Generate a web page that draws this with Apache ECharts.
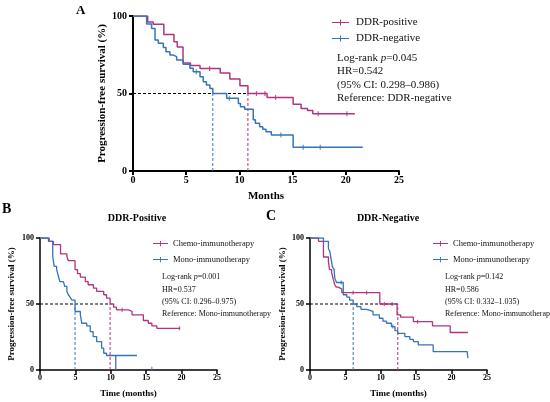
<!DOCTYPE html>
<html><head><meta charset="utf-8">
<script src="https://cdn.jsdelivr.net/npm/echarts/dist/echarts.min.js"></script>
<style>html,body{margin:0;padding:0;background:#fff}#c{width:550px;height:402px}</style>
</head><body><div id="c"></div>
<script>
// ---------- data ----------
const xTickStep = 5, xMax = 25, yTickStep = 50, yMax = 100;

// Panel A
const posA = [[0,100],[1.38,96.1],[1.9,94.6],[2.9,88],[3.85,83.4],[4.16,80],[4.7,69.7],[5.4,68],[6.3,66.2],[8.2,63.2],[9.1,59.4],[10.05,55],[10.8,50],[12.6,47.5],[15.05,43],[15.8,40.4],[16.4,39],[16.9,37],[20.85,37]];
const negA = [[0,100],[1.28,94.8],[1.75,92],[2.07,84.5],[2.38,82.4],[2.85,79.6],[3.1,77],[3.47,74.8],[3.8,73.8],[4.1,71.6],[4.72,68.8],[5.35,66.3],[5.66,64],[6.3,60.8],[6.6,57.6],[6.9,55.5],[7.23,53.3],[7.5,50],[8.8,47],[9.9,43.6],[10.1,41.5],[10.5,39.8],[11.3,33],[11.5,30.8],[11.9,28.6],[12.2,27],[12.5,25.4],[13.0,23.2],[15.05,15.3],[21.6,15.3]];
const censPosA = [[7.2,66.2],[11.6,50],[12.4,50],[13.4,47.5],[17.4,37],[20.1,37]];
const censNegA = [[5.95,64],[9.05,47],[13.9,23.2],[16,15.3],[17.6,15.3]];
const medA = {pos:10.8, neg:7.5};

// Panel B
const chemoB = [[0,100],[1.2,97.5],[1.9,95],[2.9,88],[3.8,86],[4.0,82.8],[4.95,76],[5.3,73],[5.7,70.4],[6.4,67],[6.8,64.6],[7.55,62],[8.0,59.5],[9.0,57],[9.4,54.4],[9.9,50],[10.4,47.6],[10.8,45.6],[12.5,44.3],[13.0,41.8],[14.6,37.5],[15.3,35.4],[15.8,33.4],[16.5,31.6],[19.8,31.6]];
const monoB = [[0,100],[1.3,97.5],[1.8,86],[2.0,78.5],[2.35,76],[2.6,71],[2.8,67],[3.3,65.8],[3.5,63.3],[3.8,59.5],[4.0,57],[4.25,55.2],[4.5,53],[4.95,44.3],[5.7,41.8],[5.9,35.4],[6.6,33.4],[7.1,29.1],[7.5,25.3],[8.0,21.5],[8.7,16.5],[9.0,12.7],[9.4,11],[13.7,11]];
const monoBDrop = [[10.7,11],[10.7,0]];
const censChemoB = [[11.6,45.6],[19.7,31.6]];
const censMonoB = [[15.8,1]];
const medB = {chemo:9.9, mono:4.95};

// Panel C
const chemoC = [[0,100],[1.2,97.5],[1.9,85.6],[2.6,82.3],[2.75,76],[3.05,74],[3.3,68.4],[3.5,64.6],[3.7,62.8],[4.0,61.3],[4.5,58.6],[9.86,50],[12.3,41.7],[12.8,40],[14.6,36.6],[17.3,33.4],[19.8,28.4],[22.3,28.4]];
const monoC = [[0,100],[1.9,97.5],[2.6,92],[2.8,89.9],[2.96,84.8],[3.15,78.5],[3.4,76],[3.5,69.6],[3.75,66.3],[4.7,57],[5.2,55.2],[5.6,53],[6.1,50],[6.6,48],[7.2,46],[8.0,44.5],[8.9,41.7],[9.8,39.2],[10.3,37],[10.8,35.4],[11.5,32.9],[12.0,29.8],[12.4,27.8],[13.4,25.3],[14.1,23.2],[14.6,21.5],[15.3,19],[17.4,13.9],[22.2,13.9],[22.3,9]];
const censChemoC = [[6.1,58.6],[8.0,58.6],[10.5,50],[11.6,50],[15.2,36.6]];
const censMonoC = [[4.4,66.3],[11.7,32.9]];
const medC = {chemo:12.4, mono:6.1};

const textA = ['Log-rank |p|=0.045','HR=0.542','(95% CI: 0.298\u20130.986)','Reference: DDR-negative'];
const textB = ['Log-rank |p|=0.001','HR=0.537','(95% CI: 0.296\u20130.975)','Reference: Mono-immunotherapy'];
const textC = ['Log-rank |p|=0.142','HR=0.586','(95% CI: 0.332\u20131.035)','Reference: Mono-immunotherapy'];

// ---------- styles ----------
const FF = '"Liberation Serif","Times New Roman",serif';
const PINK = '#b3327f', BLUE = '#3574b8';
const legIcon = 'path://M0,4.4H20V5.6H0Z M9.4,1.5H10.6V8.5H9.4Z';

function xAx(gi, fs, lw, name, gap, nfs){
  return {gridIndex:gi, type:'value', min:0, max:xMax, interval:xTickStep,
    axisLine:{show:true, lineStyle:{color:'#000', width:lw}},
    axisTick:{show:true, length:4, lineStyle:{color:'#000', width:lw}},
    axisLabel:{fontFamily:FF, fontWeight:'bold', fontSize:fs, color:'#000', margin:4},
    splitLine:{show:false}, name:name, nameLocation:'middle', nameGap:gap,
    nameTextStyle:{fontFamily:FF, fontWeight:'bold', fontSize:nfs, color:'#000'}};
}
function yAx(gi, fs, lw, gap, nfs){
  return {gridIndex:gi, type:'value', min:0, max:yMax, interval:yTickStep,
    axisLine:{show:true, lineStyle:{color:'#000', width:lw}},
    axisTick:{show:true, length:4, lineStyle:{color:'#000', width:lw}},
    axisLabel:{fontFamily:FF, fontWeight:'bold', fontSize:fs, color:'#000', margin:6},
    splitLine:{show:false}, name:'Progression-free survival (%)', nameLocation:'middle', nameRotate:90, nameGap:gap,
    nameTextStyle:{fontFamily:FF, fontWeight:'bold', fontSize:nfs, color:'#000'}};
}
function km(name, gi, data, color, w){
  return {name:name, type:'line', step:'end', xAxisIndex:gi, yAxisIndex:gi, data:data, showSymbol:false, symbol:'none',
    lineStyle:{color:color, width:w}, itemStyle:{color:color}, silent:true, z:3};
}
function seg(gi, data, color, dashed, w){
  return {type:'line', xAxisIndex:gi, yAxisIndex:gi, data:data, showSymbol:false, symbol:'none', silent:true,
    lineStyle:{color:color, width:w||1, type: dashed ? [3,2] : 'solid'}, z:2};
}
function cens(gi, data, color, h){
  return {type:'scatter', xAxisIndex:gi, yAxisIndex:gi, data:data, symbol:'rect', symbolSize:[1.2,h], silent:true,
    itemStyle:{color:color}, z:4};
}
function txt(x, y, lines, fs, lh){
  return {type:'text', left:x, top:y, silent:true, style:{
    text: lines.map(l => l.replace('|p|','{i|p}')).join('\n'),
    fontFamily:FF, fontSize:fs, fill:'#111', lineHeight:lh,
    rich:{i:{fontStyle:'italic', fontFamily:FF, fontSize:fs, fill:'#111'}}}};
}
const tStyle = fs => ({fontFamily:FF, fontWeight:'bold', fontSize:fs, color:'#000'});

const chart = echarts.init(document.getElementById('c'), null, {renderer:'canvas'});
chart.setOption({
  animation:false, backgroundColor:'#fff',
  title:[
    {text:'A', left:76, top:4, padding:0, textStyle:tStyle(13)},
    {text:'B', left:2, top:202, padding:0, textStyle:tStyle(14)},
    {text:'C', left:266, top:209, padding:0, textStyle:tStyle(14)},
    {text:'DDR-Positive', left:137, top:213, padding:0, textAlign:'center', textStyle:tStyle(10)},
    {text:'DDR-Negative', left:388, top:213, padding:0, textAlign:'center', textStyle:tStyle(10)}
  ],
  grid:[
    {left:133, top:16, width:266, height:155},
    {left:40, top:238, width:177, height:132},
    {left:310, top:238, width:177, height:132}
  ],
  xAxis:[xAx(0,10,2,'Months',20,11), xAx(1,8,1.5,'Time (months)',19,9), xAx(2,8,1.5,'Time (months)',19,9)],
  yAxis:[yAx(0,10,2,21,11), yAx(1,8,1.5,24,9), yAx(2,8,1.5,23,9)],
  legend:[
    {data:['DDR-positive','DDR-negative'], orient:'vertical', left:332, top:17, padding:0, itemWidth:17, itemHeight:8, itemGap:5,
      icon:legIcon, textStyle:{fontFamily:FF, fontSize:11, color:'#111', padding:[0,0,0,2]}, selectedMode:false},
    {data:['Chemo-immunotherapy','Mono-immunotherapy'], orient:'vertical', left:153, top:239, padding:0, itemWidth:15, itemHeight:7, itemGap:7,
      icon:legIcon, textStyle:{fontFamily:FF, fontSize:8.5, color:'#111', padding:[0,0,0,0]}, selectedMode:false},
    {data:['Chemo-immunotherapy','Mono-immunotherapy'], orient:'vertical', left:433, top:239, padding:0, itemWidth:15, itemHeight:7, itemGap:7,
      icon:legIcon, textStyle:{fontFamily:FF, fontSize:8.5, color:'#111', padding:[0,0,0,0]}, selectedMode:false}
  ],
  graphic:[
    txt(337, 51, textA, 11, 13.6),
    txt(162, 271, textB, 8, 12.3),
    txt(445, 271, textC, 8, 12.3)
  ],
  series:[
    seg(0, [[0,50],[medA.pos,50]], '#000', true),
    seg(0, [[medA.neg,0],[medA.neg,50]], BLUE, true),
    seg(0, [[medA.pos,0],[medA.pos,50]], PINK, true),
    km('DDR-positive', 0, posA, PINK, 1.5),
    km('DDR-negative', 0, negA, BLUE, 1.5),
    cens(0, censPosA, PINK, 5), cens(0, censNegA, BLUE, 5),

    seg(1, [[0,50],[medB.chemo,50]], '#000', true),
    seg(1, [[medB.mono,0],[medB.mono,50]], BLUE, true),
    seg(1, [[medB.chemo,0],[medB.chemo,50]], PINK, true),
    km('Chemo-immunotherapy', 1, chemoB, PINK, 1.3),
    km('Mono-immunotherapy', 1, monoB, BLUE, 1.3),
    seg(1, monoBDrop, BLUE, false, 1.3),
    cens(1, censChemoB, PINK, 4), cens(1, censMonoB, BLUE, 4),

    seg(2, [[0,50],[medC.chemo,50]], '#000', true),
    seg(2, [[medC.mono,0],[medC.mono,50]], BLUE, true),
    seg(2, [[medC.chemo,0],[medC.chemo,50]], PINK, true),
    km('Chemo-immunotherapy', 2, chemoC, PINK, 1.3),
    km('Mono-immunotherapy', 2, monoC, BLUE, 1.3),
    cens(2, censChemoC, PINK, 4), cens(2, censMonoC, BLUE, 4)
  ]
});
</script></body></html>
